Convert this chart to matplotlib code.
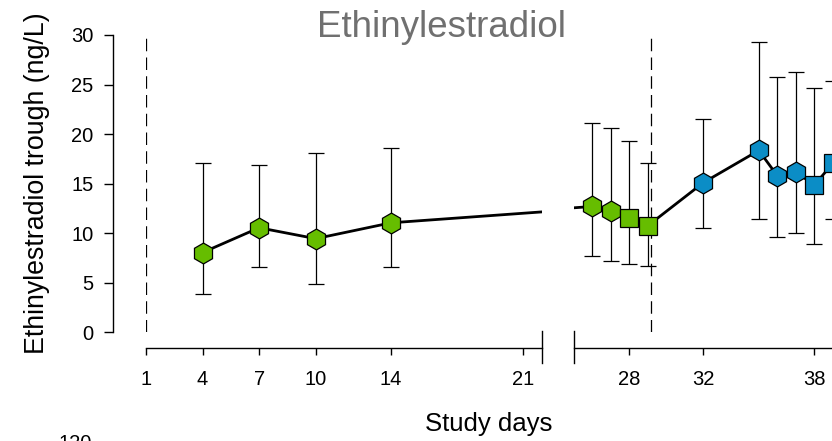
import matplotlib
matplotlib.use("Agg")
import matplotlib.pyplot as plt

plt.rcParams['font.family'] = ['Liberation Sans', 'DejaVu Sans']

# Veriler
days = [4, 7, 10, 14, 26, 27, 28, 29, 32, 35, 36, 37, 38, 39]
trough = [8.05, 10.55, 9.45, 11.05, 12.7, 12.25, 11.55, 10.75, 15.1, 18.35, 15.8, 16.2, 14.85, 17.05]
upper = [17.1, 16.9, 18.1, 18.6, 21.15, 20.6, 19.3, 17.1, 21.55, 29.25, 25.75, 26.3, 24.65, 25.4]
lower = [3.85, 6.6, 4.9, 6.55, 7.7, 7.2, 6.9, 6.7, 10.5, 11.45, 9.6, 10.0, 8.9, 11.45]
# 0 = EE alone (daily), 1 = EE alone (end), 2 = co-admin (daily), 3 = co-admin (end)
group = [0, 0, 0, 0, 0, 0, 1, 1, 2, 2, 2, 2, 3, 3]
ref_days = [1, 29.2]
left_ticks = [1, 4, 7, 10, 14, 21]
right_ticks = [28, 32, 38]

green = '#66BD00'
blue = '#0B8DC6'
styles = {0: ('h', green, 15), 1: ('s', green, 12.5), 2: ('h', blue, 15), 3: ('s', blue, 12.5)}

W, H = 832, 441
fig = plt.figure(figsize=(W / 100, H / 100), dpi=100)

top, bottom = 35, 332.3
ax_l = fig.add_axes([146 / W, 1 - bottom / H, 396 / W, (bottom - top) / H])
ax_r = fig.add_axes([573.8 / W, 1 - bottom / H, 370 / W, (bottom - top) / H])

err_lo = [t - l for t, l in zip(trough, lower)]
err_hi = [u - t for t, u in zip(trough, upper)]

for ax in (ax_l, ax_r):
    ax.plot(days, trough, color='black', lw=2.0, zorder=2)
    ax.errorbar(days, trough, yerr=[err_lo, err_hi], fmt='none', ecolor='black',
                elinewidth=0.9, capsize=6, capthick=0.9, zorder=1)
    for g, (m, c, ms) in styles.items():
        xs = [d for d, gg in zip(days, group) if gg == g]
        ys = [t for t, gg in zip(trough, group) if gg == g]
        ax.plot(xs, ys, linestyle='none', marker=m, markersize=ms, markerfacecolor=c,
                markeredgecolor='black', markeredgewidth=0.9, zorder=3)
    ax.set_ylim(0, 30)
    ax.spines['top'].set_visible(False)
    ax.spines['right'].set_visible(False)
    ax.spines['bottom'].set_position(('outward', 11.1))
    ax.spines['bottom'].set_linewidth(1.0)
    ax.tick_params(axis='x', direction='out', length=5.3, width=1.0, pad=10.5, labelsize=14.5)
    ax.patch.set_visible(False)

ax_l.set_xlim(1, 22)
ax_r.set_xlim(25, 45)
ax_l.set_xticks(left_ticks)
ax_r.set_xticks(right_ticks)

ax_l.axvline(ref_days[0], color='black', lw=0.9, dashes=(10, 5))
ax_r.axvline(ref_days[1], color='black', lw=0.9, dashes=(10, 5))

ax_l.spines['left'].set_position(('outward', 23.8))
ax_l.spines['left'].set_linewidth(1.0)
ax_l.set_yticks(range(0, 31, 5))
ax_l.tick_params(axis='y', direction='out', length=6.5, width=1.0, pad=7.5, labelsize=14.5)

ax_r.spines['left'].set_visible(False)
ax_r.tick_params(axis='y', left=False, labelleft=False)

# axis break marks
ax_l.plot([1, 1], [0.004, -0.102], transform=ax_l.transAxes, color='black', lw=1.0, clip_on=False)
ax_r.plot([0, 0], [0.004, -0.102], transform=ax_r.transAxes, color='black', lw=1.0, clip_on=False)

fig.text(441.5 / W, 1 - 36.7 / H, 'Ethinylestradiol', ha='center', va='baseline',
         fontsize=26.5, color='#707070')
fig.text(489 / W, 1 - 431 / H, 'Study days', ha='center', va='baseline', fontsize=18.5)
fig.text(37 / W, 1 - 183.5 / H, 'Ethinylestradiol trough (ng/L)', rotation=90,
         ha='center', va='center', fontsize=19.3)
fig.text(92 / W, 1 - 449 / H, '120', ha='right', va='baseline', fontsize=14.5)

fig.savefig('out.png', dpi=100)
